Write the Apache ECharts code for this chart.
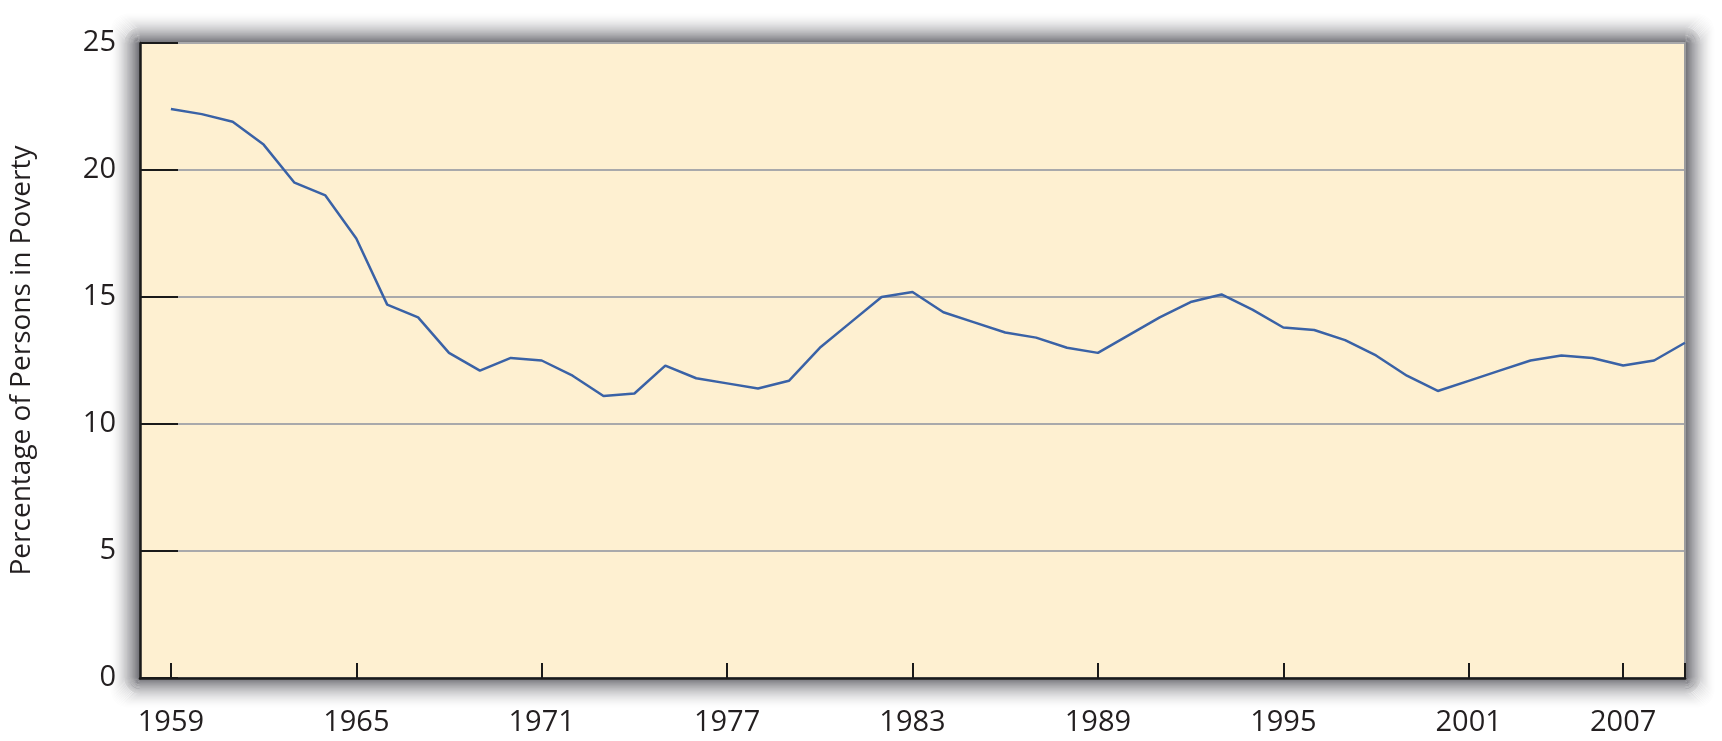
<!DOCTYPE html>
<html>
<head>
<meta charset="utf-8">
<script src="https://cdn.jsdelivr.net/npm/echarts@6/dist/echarts.min.js"></script>
<style>
html,body{margin:0;padding:0;background:#fff;}
#chart{width:1722px;height:741px;}
</style>
</head>
<body>
<div id="chart"></div>
<script>
const years = [1959,1960,1961,1962,1963,1964,1965,1966,1967,1968,1969,1970,1971,1972,1973,1974,1975,1976,1977,1978,1979,1980,1981,1982,1983,1984,1985,1986,1987,1988,1989,1990,1991,1992,1993,1994,1995,1996,1997,1998,1999,2000,2001,2002,2003,2004,2005,2006,2007,2008];
const povertyRate = [22.4,22.2,21.9,21.0,19.5,19.0,17.3,14.7,14.2,12.8,12.1,12.6,12.5,11.9,11.1,11.2,12.3,11.8,11.6,11.4,11.7,13.0,14.0,15.0,15.2,14.4,14.0,13.6,13.4,13.0,12.8,13.5,14.2,14.8,15.1,14.5,13.8,13.7,13.3,12.7,11.9,11.3,11.7,12.1,12.5,12.7,12.6,12.3,12.5,13.2];
const xTickYears = [1959,1965,1971,1977,1983,1989,1995,2001,2006,2008];
const xLabelYears = [1959,1965,1971,1977,1983,1989,1995,2001,2006];
const xLabelTexts = ['1959','1965','1971','1977','1983','1989','1995','2001','2007'];
const yTicks = [0,5,10,15,20,25];
const yTitle = 'Percentage of Persons in Poverty';

const FONT = '"Open Sans", "Noto Sans", sans-serif';
const G = { left: 140, right: 37, top: 43, bottom: 63 };
const W = 1722, H = 741;
const PW = W - G.left - G.right, PH = H - G.top - G.bottom;
const chart = echarts.init(document.getElementById('chart'));
const seriesData = years.map((y, i) => [y, povertyRate[i]]);

// soft drop shadow around the plot frame, built from thin rings
const shadowRings = [];
const SPREAD = 32;
for (let d = 1; d <= SPREAD; d += 1) {
  const t = 1 - d / SPREAD;
  shadowRings.push({
    type: 'rect', z: -20, silent: true,
    shape: { x: G.left - d + 0.5, y: G.top - d + 0.5, width: PW + 2 * d - 1, height: PH + 2 * d - 1, r: Math.min(d, 16) },
    style: { fill: null, stroke: 'rgba(50,50,58,' + (0.72 * Math.pow(t, 1.8)).toFixed(3) + ')', lineWidth: 1.1 }
  });
}

chart.setOption({
  animation: false,
  backgroundColor: '#ffffff',
  graphic: shadowRings.concat([{
    type: 'rect',
    z: -10,
    silent: true,
    shape: { x: G.left, y: G.top, width: PW, height: PH },
    style: { fill: '#FEF0D1' }
  }]),
  grid: {
    left: G.left, right: G.right, top: G.top, bottom: G.bottom,
    show: false
  },
  xAxis: {
    type: 'value',
    min: 1958, max: 2008,
    axisLine: { show: true, onZero: false, lineStyle: { color: '#1a1a1a', width: 2.5 } },
    axisTick: { show: true, inside: true, length: 15, customValues: xTickYears, lineStyle: { color: '#1a1a1a', width: 2 } },
    axisLabel: {
      customValues: xLabelYears,
      formatter: v => xLabelTexts[xLabelYears.indexOf(v)] || '',
      color: '#231f20', fontFamily: FONT, fontSize: 29, margin: 30
    },
    splitLine: { show: false }
  },
  yAxis: [{
    type: 'value',
    min: 0, max: 25, interval: 5,
    name: yTitle,
    nameLocation: 'middle',
    nameRotate: 90,
    nameGap: 104,
    nameTextStyle: { color: '#231f20', fontFamily: FONT, fontSize: 28 },
    axisLine: { show: true, lineStyle: { color: '#1a1a1a', width: 2.5 } },
    axisTick: { show: true, inside: true, length: 38, lineStyle: { color: '#1a1a1a', width: 2 } },
    axisLabel: { color: '#231f20', fontFamily: FONT, fontSize: 29, margin: 24,
      formatter: v => yTicks.includes(v) ? String(v) : '' },
    splitLine: { show: true, lineStyle: { color: '#A9A9AB', width: 2 } }
  }, {
    type: 'value',
    position: 'right',
    min: 0, max: 25, interval: 5,
    axisLine: { show: true, lineStyle: { color: '#9c9c9e', width: 2 } },
    axisTick: { show: false },
    axisLabel: { show: false },
    splitLine: { show: false }
  }],
  series: [{
    type: 'line',
    data: seriesData,
    yAxisIndex: 0,
    symbol: 'none',
    lineStyle: { color: '#3A62A6', width: 2.5 },
    z: 5
  }]
});
</script>
</body>
</html>
